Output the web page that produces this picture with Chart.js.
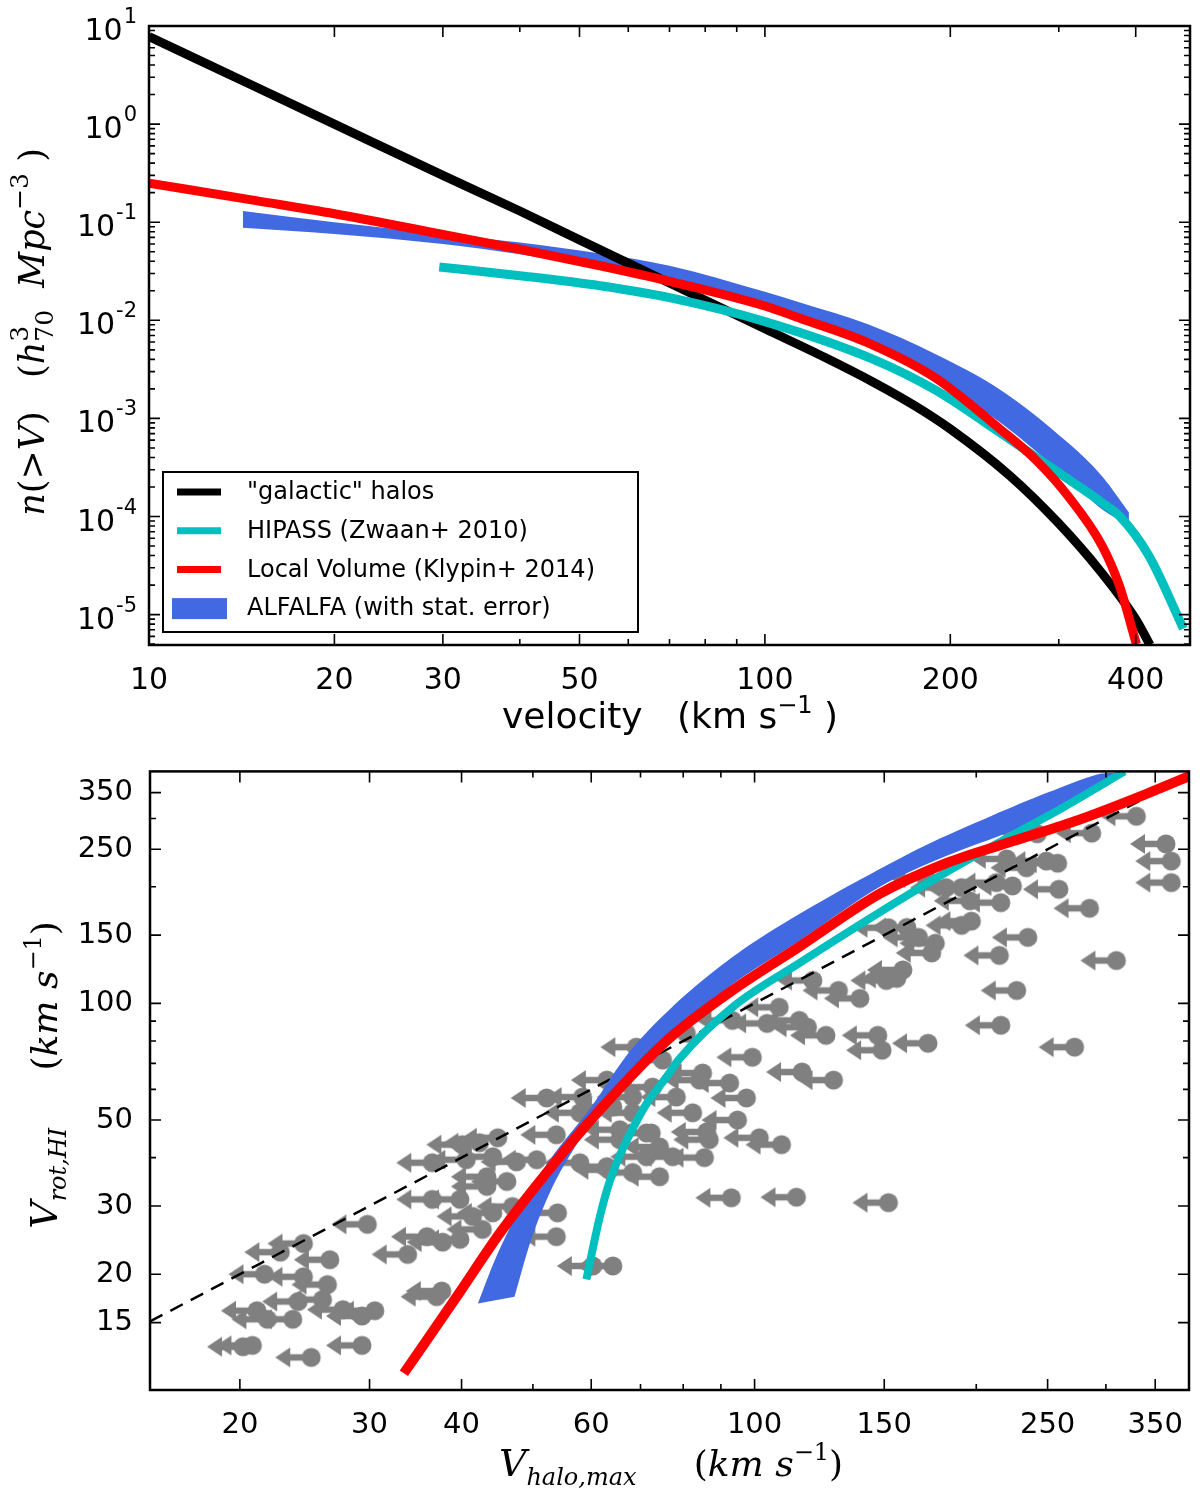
<!DOCTYPE html>
<html>
<head>
<meta charset="utf-8">
<title>Velocity function and abundance matching</title>
<script src="https://cdn.jsdelivr.net/npm/chart.js@4.4.1/dist/chart.umd.min.js"></script>
<style>
html, body { margin: 0; padding: 0; background: #fff; }
canvas { display: block; }
</style>
</head>
<body>
<canvas id="vf" width="1200" height="745" style="width:1200px;height:745px"></canvas>
<canvas id="am" width="1200" height="746" style="width:1200px;height:746px"></canvas>
<script>
// ---- top panel: cumulative velocity function n(>V) ----
const halosV = [10, 15, 20, 30, 40, 50, 70, 100, 125, 150, 175, 200, 250, 300, 350, 400, 422];
const halosN = [7.8, 2.35, 1.0, 0.30, 0.13, 0.066, 0.024, 0.0082, 0.0042, 0.00234, 1.35e-3, 7.8e-4, 2.6e-4, 8.5e-5, 2.8e-5, 9.0e-6, 4.9e-6];

const hipassV = [29.6, 40, 54, 70, 100, 150, 189, 242, 311, 353, 376, 420, 478];
const hipassN = [0.035, 0.0285, 0.0225, 0.017, 0.0097, 0.0040, 0.00195, 7.0e-4, 2.4e-4, 1.38e-4, 1.02e-4, 4.0e-5, 7.2e-6];

const lvV = [10, 15, 20, 30, 40, 54, 70, 100, 114, 147, 189, 242, 275, 311, 353, 376, 401];
const lvN = [0.25, 0.165, 0.122, 0.075, 0.053, 0.036, 0.025, 0.014, 0.0105, 0.0059, 0.0026, 7.6e-4, 3.8e-4, 1.6e-4, 5.0e-5, 2.0e-5, 5.0e-6];

const alfaV = [14.2, 20, 30, 40, 54, 70, 100, 114, 147, 189, 242, 311, 353, 390];
const alfaHi = [0.13, 0.10, 0.076, 0.062, 0.048, 0.036, 0.0195, 0.0152, 0.0091, 0.00454, 0.00193, 5.6e-4, 2.56e-4, 1.1e-4];
const alfaLo = [0.088, 0.076, 0.060, 0.047, 0.034, 0.025, 0.0142, 0.0108, 0.0063, 0.0025, 8.9e-4, 2.4e-4, 1.18e-4, 8.1e-5];

const topXTicks = [10, 20, 30, 50, 100, 200, 400];
const topXMinor = [40, 60, 70, 80, 90, 300];
const topYTicks = [1e-5, 1e-4, 1e-3, 1e-2, 1e-1, 1, 10];
const topYExp = ['-5', '-4', '-3', '-2', '-1', '0', '1'];

// ---- bottom panel: V_rot,HI against V_halo,max ----
const lvHaloX = [33.4, 39.4, 45.2, 52.2, 61.6, 75.9, 93.3, 115, 148, 182, 224, 276, 340, 397];
const lvRotY = [11.1, 17.5, 25.7, 36.6, 53, 80, 108, 140, 192, 230, 262, 298, 347, 392];

const hipassHaloX = [59.1, 61.6, 63.5, 65.6, 68.3, 71.3, 75.9, 79.1, 93.3, 115, 148, 182, 224, 262, 318];
const hipassRotY = [19.4, 28, 34.5, 40.5, 47.5, 55, 64.5, 72, 97.7, 127, 172, 218, 272, 320, 397];

const bandUpperX = [42.1, 44.5, 48, 53, 60, 68, 80, 95, 115, 140, 170, 210, 250, 292];
const bandUpperY = [16.8, 22, 29.5, 40, 54, 76, 104, 135, 170, 210, 255, 305, 350, 390];
const bandLowerX = [47.2, 50.1, 54.4, 62.8, 75, 93.3, 115, 148, 182, 224, 262, 310];
const bandLowerY = [17.5, 25.6, 36.6, 55.3, 78, 112, 145, 200, 240, 279, 320, 390];

const oneToOneX = [15.1, 355];
const oneToOneY = [15.1, 355];

const galVhalo = [
  29.8, 26.5, 22.7, 24.4, 21.6, 24.4, 26.3, 24.0, 25.9, 21.1, 23.6, 21.8, 30.5, 29.3, 27.6, 20.8, 20.2, 25.0, 29.3, 33.8, 35.9, 37.7, 39.8, 37.6, 37.0,
  52.2, 58.4, 44.8, 42.3, 36.5, 40.6, 44.1, 47.5, 50.6, 53.8, 57.9, 46.1, 43.3, 36.5, 39.8, 43.3, 44.1, 46.9, 54.0, 53.8, 64.2, 60.3, 42.7, 57.9, 63.0,
  74.3, 68.3, 71.3, 74.3, 65.6, 77.4, 64.2, 68.3, 72.7, 69.1, 75.0, 63.0, 40.1, 41.4,
  93.0, 114, 152, 108.8, 101.5, 85.5, 94.8, 86.8, 86.1, 97.5, 92.5, 84.2, 128, 116, 99.3, 147, 149, 125, 118, 108, 115, 139, 130, 120, 151, 152,
  72.4, 71.3, 68.3, 65.6, 63.5, 78.3, 82.4, 85.0, 80.8, 93.3, 104,
  330, 287, 242, 362, 368, 368, 258, 249, 220, 234, 259, 224, 213, 216, 191, 196, 285, 197, 191, 235, 215, 310, 227, 216, 272, 172, 174, 176, 167, 161,
  159, 156, 182, 171
];
const galVrot = [
  26.9, 21.8, 22.8, 24.0, 20.0, 19.7, 18.8, 17.0, 17.2, 16.1, 15.3, 15.3, 16.1, 15.6, 16.2, 13.1, 13.0, 12.2, 13.1, 22.5, 25.0, 24.2, 24.6, 18.1, 17.5,
  57.0, 57.3, 45.0, 43.7, 38.8, 39.5, 40.2, 39.0, 39.5, 45.8, 52.2, 34.7, 35.7, 31.2, 31.2, 33.7, 28.8, 29.9, 28.8, 25.0, 21.0, 21.0, 26.1, 38.8, 37.9,
  35.7, 36.6, 46.3, 42.6, 47.2, 40.2, 54.0, 57.3, 60.8, 77.1, 71.4, 63.4, 43.2, 28.2,
  31.5, 31.6, 30.6, 43.2, 45.0, 40.0, 50.0, 44.5, 46.6, 57.0, 62.3, 63.4, 63.4, 66.5, 72.6, 82.7, 75.7, 82.7, 86.8, 97.7, 90.4, 103, 108, 114.6, 114.6, 156.8,
  46.3, 40.2, 52.2, 44.5, 37.2, 57.3, 52.2, 66.1, 83.7, 90.4, 88.8,
  304, 275, 274, 258, 233, 205, 230, 233, 236, 224, 197, 201, 205, 182, 199, 184, 176, 163, 159, 148, 133, 129, 108, 87.8, 77.1, 78.9, 135, 143, 148, 157,
  122, 116, 199, 211
];

const botXTicks = [20, 30, 40, 60, 100, 150, 250, 350];
const botXMinor = [50, 70, 80, 90, 200, 300];
const botYTicks = [15, 20, 30, 50, 100, 150, 250, 350];
const botYMinor = [40, 60, 70, 80, 90, 200, 300];

const BLACK = '#000000', CYAN = '#00bfbf', RED = '#ff0000', BLUE = '#4169e1', GREY = '#808080';

Chart.defaults.font.family = 'DejaVu Sans';
Chart.defaults.color = '#000';

const pts = (xs, ys) => xs.map((x, i) => ({x: x, y: ys[i]}));

function lineSet(label, xs, ys, color, width, order, extra) {
  return Object.assign({
    label: label,
    data: pts(xs, ys),
    borderColor: width ? color : 'rgba(0,0,0,0)',
    backgroundColor: color,
    borderWidth: width,
    pointRadius: 0,
    fill: false,
    cubicInterpolationMode: 'monotone',
    borderCapStyle: 'butt',
    order: order
  }, extra || {});
}

function decadeMinors(lo, hi) {
  const out = [];
  for (let d = Math.pow(10, Math.floor(Math.log10(lo))); d < hi; d *= 10) {
    for (let m = 2; m <= 9; m++) {
      const v = m * d;
      if (v > lo && v < hi) out.push(v);
    }
  }
  return out;
}

// inward ticks on all four sides + the frame, like the original figure
function frameTicks(xMajor, xMinor, yMajor, yMinor) {
  return {
    id: 'frameTicks',
    afterDraw(chart) {
      const {ctx, chartArea: a} = chart;
      const sx = chart.scales.x, sy = chart.scales.y;
      ctx.save();
      ctx.strokeStyle = '#000';
      ctx.lineWidth = 1.6;
      ctx.beginPath();
      const tx = (vals, len) => vals.forEach(v => {
        const p = sx.getPixelForValue(v);
        ctx.moveTo(p, a.bottom); ctx.lineTo(p, a.bottom - len);
        ctx.moveTo(p, a.top); ctx.lineTo(p, a.top + len);
      });
      const ty = (vals, len) => vals.forEach(v => {
        const p = sy.getPixelForValue(v);
        ctx.moveTo(a.left, p); ctx.lineTo(a.left + len, p);
        ctx.moveTo(a.right, p); ctx.lineTo(a.right - len, p);
      });
      tx(xMajor, 11); tx(xMinor, 6);
      ty(yMajor, 11); ty(yMinor, 6);
      ctx.stroke();
      ctx.lineWidth = 2.5;
      ctx.strokeRect(a.left, a.top, a.right - a.left, a.bottom - a.top);
      ctx.restore();
    }
  };
}

// text made of runs: [text, font, dy, noAdvance]
function drawRuns(ctx, runs, cx, cy) {
  let w = 0;
  runs.forEach(r => { if (!r[3]) { ctx.font = r[1]; w += ctx.measureText(r[0]).width; } });
  let x = cx - w / 2;
  ctx.textAlign = 'left';
  ctx.textBaseline = 'alphabetic';
  runs.forEach(r => {
    ctx.font = r[1];
    ctx.fillText(r[0], x, cy + (r[2] || 0));
    if (!r[3]) x += ctx.measureText(r[0]).width;
  });
}

function titles(xRuns, xPos, yRuns, yPos) {
  return {
    id: 'titles',
    afterDraw(chart) {
      const ctx = chart.ctx;
      ctx.save();
      ctx.fillStyle = '#000';
      drawRuns(ctx, xRuns, xPos[0], xPos[1]);
      ctx.translate(yPos[0], yPos[1]);
      ctx.rotate(-Math.PI / 2);
      drawRuns(ctx, yRuns, 0, 0);
      ctx.restore();
    }
  };
}

const topYLabels = {
  id: 'topYLabels',
  afterDraw(chart) {
    const ctx = chart.ctx, sy = chart.scales.y;
    ctx.save();
    ctx.fillStyle = '#000';
    ctx.textAlign = 'right';
    ctx.textBaseline = 'alphabetic';
    topYTicks.forEach((v, i) => {
      const y = sy.getPixelForValue(v);
      ctx.font = '21px DejaVu Sans';
      const ew = ctx.measureText(topYExp[i]).width;
      ctx.fillText(topYExp[i], 137, y - 3);
      ctx.font = '30px DejaVu Sans';
      ctx.fillText('10', 137 - ew - 1, y + 14);
    });
    ctx.restore();
  }
};

const topLegend = {
  id: 'topLegend',
  afterDraw(chart) {
    const ctx = chart.ctx;
    const items = chart.data.datasets.filter(d => d.label);
    ctx.save();
    ctx.fillStyle = '#fff';
    ctx.fillRect(163, 472, 475, 160);
    ctx.strokeStyle = '#000';
    ctx.lineWidth = 2;
    ctx.strokeRect(163, 472, 475, 160);
    items.forEach((d, i) => {
      const cy = 492 + i * 38.7;
      if (d.borderWidth === 0) {
        ctx.fillStyle = d.backgroundColor;
        ctx.fillRect(172, cy - 10, 55, 21);
      } else {
        ctx.strokeStyle = d.borderColor;
        ctx.lineWidth = 7;
        ctx.beginPath();
        ctx.moveTo(177, cy);
        ctx.lineTo(221, cy);
        ctx.stroke();
      }
      ctx.fillStyle = '#000';
      ctx.font = '24px DejaVu Sans';
      ctx.textAlign = 'left';
      ctx.textBaseline = 'middle';
      ctx.fillText(d.label, 247, cy + 1);
    });
    ctx.restore();
  }
};

function logAxis(min, max, ticks, fitProp, fitVal, tickOpts) {
  return {
    type: 'logarithmic',
    min: min,
    max: max,
    afterBuildTicks: s => { s.ticks = ticks.map(v => ({value: v})); },
    afterFit: s => { s[fitProp] = fitVal; },
    grid: {display: false},
    border: {display: false},
    ticks: Object.assign({autoSkip: false, maxRotation: 0, color: '#000'}, tickOpts)
  };
}

new Chart(document.getElementById('vf'), {
  type: 'line',
  data: {
    datasets: [
      lineSet('"galactic" halos', halosV, halosN, BLACK, 9, 2),
      lineSet('HIPASS (Zwaan+ 2010)', hipassV, hipassN, CYAN, 9, 1),
      lineSet('Local Volume (Klypin+ 2014)', lvV, lvN, RED, 9, 0),
      lineSet('ALFALFA (with stat. error)', alfaV, alfaHi, BLUE, 0, 3),
      lineSet('', alfaV, alfaLo, BLUE, 0, 3, {fill: 3})
    ]
  },
  options: {
    responsive: false,
    animation: false,
    devicePixelRatio: 1,
    events: [],
    layout: {padding: {top: 26, right: 10, left: 0, bottom: 0}},
    plugins: {legend: {display: false}, tooltip: {enabled: false}},
    scales: {
      x: logAxis(10, 490, topXTicks, 'height', 100, {
        padding: 10, font: {size: 30}, callback: v => String(v)
      }),
      y: logAxis(4.9e-6, 10, topYTicks, 'width', 149, {display: false})
    }
  },
  plugins: [
    frameTicks(topXTicks, topXMinor, topYTicks, decadeMinors(4.9e-6, 10)),
    topYLabels,
    topLegend,
    titles(
      [['velocity   (km s', '36px DejaVu Sans', 0], ['\u22121', '24px DejaVu Sans', -15], [' )', '36px DejaVu Sans', 0]],
      [670, 728],
      [['n', 'italic 35px DejaVu Serif', 0], ['(>', '35px DejaVu Serif', 0], ['V', 'italic 35px DejaVu Serif', 0],
       [')', '35px DejaVu Serif', 0], ['   (', '35px DejaVu Serif', 0], ['h', 'italic 35px DejaVu Serif', 0],
       ['3', '25px DejaVu Serif', -16, true], ['70', '25px DejaVu Serif', 9], ['  Mpc', 'italic 35px DejaVu Serif', 0],
       ['\u22123', '25px DejaVu Serif', -16], [' )', '35px DejaVu Serif', 0]],
      [44, 332]
    )
  ]
});

function arrowMarker() {
  const c = document.createElement('canvas');
  c.width = 80;
  c.height = 26;
  const g = c.getContext('2d');
  g.fillStyle = GREY;
  g.beginPath();
  g.arc(40, 13, 9.5, 0, 2 * Math.PI);
  g.fill();
  g.fillRect(18, 9.75, 22, 6.5);
  g.beginPath();
  g.moveTo(4, 13);
  g.lineTo(19, 3);
  g.lineTo(19, 23);
  g.closePath();
  g.fill();
  return c;
}

const bandPolygon = pts(bandUpperX, bandUpperY).concat(pts(bandLowerX, bandLowerY).reverse());

new Chart(document.getElementById('am'), {
  type: 'line',
  data: {
    datasets: [
      lineSet('', lvHaloX, lvRotY, RED, 10, 0),
      lineSet('', hipassHaloX, hipassRotY, CYAN, 8, 1),
      {
        data: bandPolygon, borderWidth: 0, borderColor: 'rgba(0,0,0,0)', backgroundColor: BLUE,
        fill: 'shape', tension: 0.3, pointRadius: 0, order: 2
      },
      lineSet('', oneToOneX, oneToOneY, BLACK, 2.5, 3, {borderDash: [14, 9]}),
      {
        data: pts(galVhalo, galVrot), showLine: false, pointStyle: arrowMarker(),
        pointRadius: 10, order: 4
      }
    ]
  },
  options: {
    responsive: false,
    animation: false,
    devicePixelRatio: 1,
    events: [],
    layout: {padding: {top: 25, right: 10, left: 0, bottom: 0}},
    plugins: {legend: {display: false}, tooltip: {enabled: false}},
    scales: {
      x: logAxis(15.1, 389, botXTicks, 'height', 101, {
        padding: 10, font: {size: 29}, callback: v => String(v)
      }),
      y: logAxis(10.05, 397, botYTicks, 'width', 150, {
        padding: 9, font: {size: 29}, callback: v => String(v)
      })
    }
  },
  plugins: [
    frameTicks(botXTicks, botXMinor, botYTicks, botYMinor),
    titles(
      [['V', 'italic 38px DejaVu Serif', 0], ['halo,max', 'italic 24px DejaVu Serif', 9], ['     (', '36px DejaVu Serif', 0],
       ['km s', 'italic 36px DejaVu Serif', 0], ['\u22121', '24px DejaVu Serif', -16], [')', '36px DejaVu Serif', 0]],
      [671, 731],
      [['V', 'italic 38px DejaVu Serif', 0], ['rot,HI', 'italic 24px DejaVu Serif', 9], ['     (', '36px DejaVu Serif', 0],
       ['km s', 'italic 36px DejaVu Serif', 0], ['\u22121', '24px DejaVu Serif', -16], [')', '36px DejaVu Serif', 0]],
      [57, 330]
    )
  ]
});
</script>
</body>
</html>
